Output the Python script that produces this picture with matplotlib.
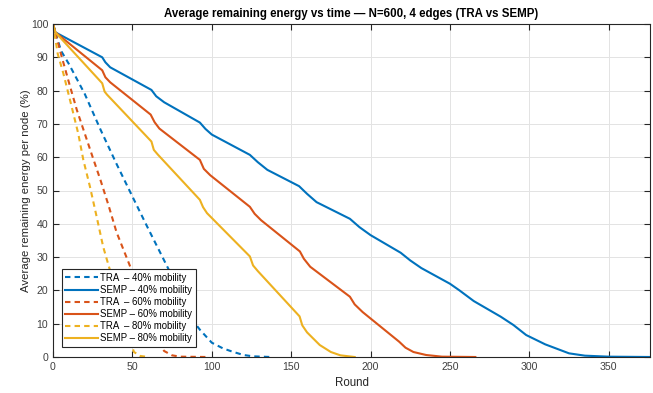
import numpy as np
import matplotlib.pyplot as plt

plt.rcParams['font.family'] = ['Liberation Sans', 'DejaVu Sans']

# --- data ---
# TRA curves (dashed)
tra40_x = [0, 5, 10, 20, 30, 40, 50, 60, 70, 80, 88, 92.5, 100, 107, 113, 120, 126, 137]
tra40_y = [100, 92, 88, 79, 68.2, 58, 48.2, 38.5, 29, 19.5, 11, 8.2, 4.3, 2.6, 1.6, 0.6, 0.2, 0]

tra60_x = [0, 5, 10, 15, 20, 25, 30, 35, 40, 45, 50, 55, 60, 65, 70, 75, 80, 97]
tra60_y = [100, 91, 82.5, 74.2, 67.1, 60, 53, 45.5, 37.5, 31.5, 25.5, 18.5, 11.5, 5, 1.8, 0.5, 0.1, 0]

tra80_x = [0, 3, 6.5, 10.7, 15.9, 19.1, 23.3, 27.5, 31.6, 35, 40, 45, 48, 51, 55, 60]
tra80_y = [100, 91, 85.2, 77.2, 67.1, 59.2, 51.1, 42.1, 33.1, 27.5, 19.5, 11, 5.5, 1.5, 0.3, 0]

# SEMP curves (solid)
semp40_x = [0, 1.5, 31, 33, 36, 62, 65, 70, 92.5, 96, 100, 124, 129, 135, 155, 160, 166,
            187, 193, 200, 219, 225, 232, 250, 256, 265, 282, 290, 298, 310, 325, 335, 350, 376]
semp40_y = [100, 97.5, 90, 88.5, 87, 80.2, 78.3, 76.5, 70.4, 68.5, 66.8, 60.7, 58.5, 56.2,
            51.3, 49, 46.5, 41.5, 39, 36.6, 31.3, 29, 26.7, 22, 20, 16.8, 12.1, 9.6, 6.6,
            3.8, 1.1, 0.4, 0.1, 0]

semp60_x = [0, 1.5, 31, 33, 36, 61.5, 64, 67, 92.5, 95, 99, 124, 127, 131, 155.5, 158, 162,
            187, 190, 195, 218, 222, 227, 235, 245, 266]
semp60_y = [100, 97.5, 86.1, 84, 82.5, 72.8, 70.5, 68.6, 59.2, 56.5, 54.6, 45.1, 43, 41.1,
            31.7, 29.5, 27.1, 18.1, 15.8, 13.5, 4.6, 2.8, 1.5, 0.6, 0.1, 0]

semp80_x = [0, 1.5, 31, 32.5, 34, 62, 63.5, 66, 92.5, 94.5, 97, 124, 126, 129, 155.3, 157,
            160, 168, 175, 181, 190]
semp80_y = [100, 97.5, 82.2, 79.7, 78.8, 64.7, 62.2, 60.8, 47.2, 45, 43.2, 30.2, 27.5, 25.8,
            12.2, 9.5, 7.4, 3.6, 1.5, 0.5, 0]

labels = ['TRA  \u2013 40% mobility', 'SEMP \u2013 40% mobility',
          'TRA  \u2013 60% mobility', 'SEMP \u2013 60% mobility',
          'TRA  \u2013 80% mobility', 'SEMP \u2013 80% mobility']

c40, c60, c80 = '#0072BD', '#D95319', '#EDB120'

fig = plt.figure(figsize=(6.53, 3.93), dpi=100)
ax = fig.add_axes([53 / 653, 36 / 393, 597 / 653, 333 / 393])

dash = (2.6, 2.0)
lw = 1.5
ax.plot(tra40_x, tra40_y, '--', color=c40, lw=lw, dashes=dash, label=labels[0])
ax.plot(semp40_x, semp40_y, '-', color=c40, lw=lw, label=labels[1])
ax.plot(tra60_x, tra60_y, '--', color=c60, lw=lw, dashes=dash, label=labels[2])
ax.plot(semp60_x, semp60_y, '-', color=c60, lw=lw, label=labels[3])
ax.plot(tra80_x, tra80_y, '--', color=c80, lw=lw, dashes=dash, label=labels[4])
ax.plot(semp80_x, semp80_y, '-', color=c80, lw=lw, label=labels[5])

ax.set_xlim(0, 376)
ax.set_ylim(0, 100)
ax.set_xticks(np.arange(0, 351, 50))
ax.set_yticks(np.arange(0, 101, 10))
ax.grid(True, color='#e3e3e3', lw=0.7)
ax.set_axisbelow(True)
ax.tick_params(direction='in', top=True, right=True, length=4, width=0.8,
               colors='#262626', labelsize=7.6, labelcolor='#404040')
for s in ax.spines.values():
    s.set_color('#262626')
    s.set_linewidth(0.8)

ax.set_title('Average remaining energy vs time \u2014 N=600, 4 edges (TRA vs SEMP)',
             fontsize=8.3, fontweight='bold', pad=5)
ax.set_xlabel('Round', fontsize=8.3, color='#262626', labelpad=4)
ax.set_ylabel('Average remaining energy per node (%)', fontsize=8.2, color='#262626', labelpad=0)

leg = ax.legend(loc='lower left', bbox_to_anchor=(0.015, 0.031), fontsize=6.9,
                fancybox=False, framealpha=1, edgecolor='#262626', handlelength=3.4,
                handletextpad=0.25, labelspacing=0.22, borderpad=0.35, borderaxespad=0)
leg.get_frame().set_linewidth(0.8)

fig.savefig('out.png', dpi=100)
